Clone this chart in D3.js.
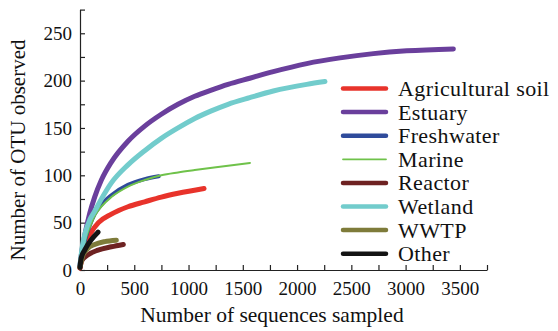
<!DOCTYPE html>
<html>
<head>
<meta charset="utf-8">
<script src="https://cdn.jsdelivr.net/npm/d3@7"></script>
<style>
  body { margin: 0; background: #fff; }
</style>
</head>
<body>
<div id="canvas"></div>
<script>
const width = 558;
const height = 331;
const serif = "'Liberation Serif', 'DejaVu Serif', 'Times New Roman', serif";

// series names, in legend order
const names = ['Agricultural soil', 'Estuary', 'Freshwater', 'Marine', 'Reactor', 'Wetland', 'WWTP', 'Other'];
const colors = ['#e8332b', '#6a3f9c', '#2f4b9b', '#6fc24a', '#6e2222', '#72cccc', '#7e7b3a', '#141414'];
const widths = [5, 5, 4, 2, 5, 5, 5, 5];

// [sequences, OTU]
const agricultural = [[0,2],[20,14],[50,28],[104,40],[170,50],[289,59],[442,66.8],[596,72],[749,77],[903,81],[1143,86]];
const estuary = [[0,5],[20,22],[50,40],[90,60],[135,77],[197,95],[289,114],[442,136],[596,152],[749,164.5],[903,175],[1057,183.5],[1210,190],[1364,196],[1564,202.5],[1781,209.5],[2089,218],[2396,224],[2703,228.5],[3010,231.5],[3440,233.5]];
const freshwater = [[0,3],[20,17],[50,33],[90,47],[135,59],[197,69],[289,79],[442,90],[596,96],[725,99]];
const marine = [[0,3],[20,16],[50,32],[90,45],[135,57],[197,67],[289,77],[442,88],[596,95],[749,100],[903,103],[1057,105.5],[1364,110],[1566,113]];
const reactor = [[0,2],[12,9],[74,16],[166,21],[289,24.5],[399,27]];
const wetland = [[0,5],[20,24],[50,40],[90,53],[135,62],[197,75],[289,92],[442,111],[596,126],[749,139],[903,150],[1057,160],[1210,168],[1364,175],[1564,182],[1781,189],[2089,196],[2257,199]];
const wwtp = [[0,3],[28,16],[74,23],[135,27],[227,30],[335,31.5]];
const other = [[0,3],[10,12],[43,21],[104,32],[166,40]];
const series = [agricultural, estuary, freshwater, marine, reactor, wetland, wwtp, other];

const xTicks = [0, 500, 1000, 1500, 2000, 2500, 3000, 3500];
const yTicks = [0, 50, 100, 150, 200, 250];

const svg = d3.select('#canvas').append('svg')
  .attr('width', width)
  .attr('height', height)
  .attr('font-family', serif);

const xScale = d3.scaleLinear().domain([0, 3750]).range([80, 487]);
const yScale = d3.scaleLinear().domain([0, 275]).range([270, 9.6]);

// axes with inward ticks, minor ticks left unlabelled
const xAxis = d3.axisBottom(xScale).tickValues(d3.range(0, 3751, 250))
  .tickSize(-5).tickSizeOuter(0)
  .tickFormat(d => xTicks.includes(d) ? d : '');
const yAxis = d3.axisLeft(yScale).tickValues(d3.range(0, 276, 25))
  .tickSize(-5).tickSizeOuter(0)
  .tickFormat(d => yTicks.includes(d) ? d : '');

const gx = svg.append('g').attr('transform', 'translate(0,270)').call(xAxis)
  .attr('font-family', serif).attr('font-size', 19);
gx.selectAll('text').attr('y', 12).attr('fill', '#111');
const gy = svg.append('g').attr('transform', 'translate(80,0)').call(yAxis)
  .attr('font-family', serif).attr('font-size', 19);
gy.selectAll('text').attr('x', -8).attr('fill', '#111');
svg.selectAll('.domain, .tick line').attr('stroke', '#222').attr('stroke-width', 1.2);

svg.append('text')
  .attr('x', 272).attr('y', 322)
  .attr('text-anchor', 'middle').attr('font-size', 21.5).attr('fill', '#111')
  .text('Number of sequences sampled');
svg.append('text')
  .attr('transform', 'translate(25,150) rotate(-90)')
  .attr('text-anchor', 'middle').attr('font-size', 21).attr('fill', '#111')
  .text('Number of OTU observed');

const line = d3.line()
  .x(d => xScale(d[0]))
  .y(d => yScale(d[1]))
  .curve(d3.curveMonotoneX);

series.forEach((s, i) => {
  svg.append('path')
    .attr('d', line(s))
    .attr('fill', 'none')
    .attr('stroke', colors[i])
    .attr('stroke-width', widths[i])
    .attr('stroke-linecap', 'round');
});

// legend
const legend = svg.append('g');
names.forEach((n, i) => {
  const y = 88.5 + i * 23.6;
  legend.append('line')
    .attr('x1', 343).attr('x2', 386).attr('y1', y).attr('y2', y)
    .attr('stroke', colors[i]).attr('stroke-width', widths[i] === 2 ? 1.8 : 4.5)
    .attr('stroke-linecap', 'round');
  legend.append('text')
    .attr('x', 398).attr('y', y + 7.5)
    .attr('font-size', 22).attr('letter-spacing', 0.4).attr('fill', '#111')
    .text(n);
});
</script>
</body>
</html>
